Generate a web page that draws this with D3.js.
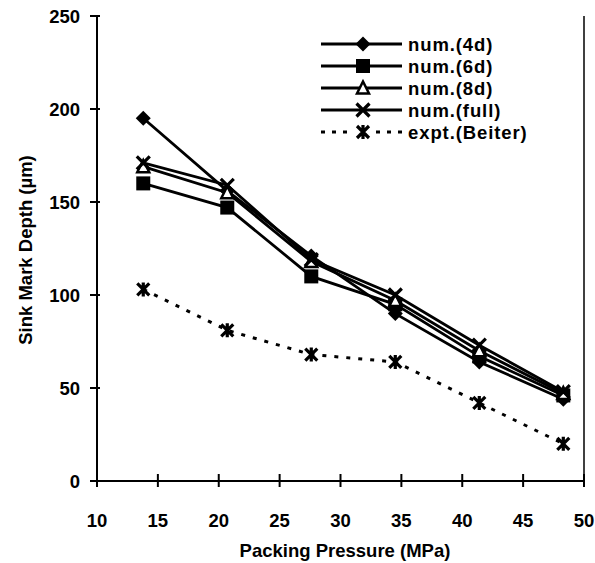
<!DOCTYPE html>
<html><head><meta charset="utf-8">
<script src="https://cdn.jsdelivr.net/npm/d3@7"></script>
<style>body{margin:0;background:#fff;} text{font-family:Arial,"Liberation Sans",sans-serif;font-weight:bold;fill:#000;}</style>
</head><body><svg id="c" width="595" height="563"></svg>
<script>
const pressures = [13.8, 20.7, 27.6, 34.5, 41.4, 48.3];
const num4d   = [195, 156, 121, 90, 64, 44];
const num6d   = [160, 147, 110, 95, 67, 46];
const num8d   = [169, 155, 118, 97, 70, 47];
const numFull = [171, 159, 119, 100, 73, 48];
const exptBeiter = [103, 81, 68, 64, 42, 20];
const seriesNames = ["num.(4d)", "num.(6d)", "num.(8d)", "num.(full)", "expt.(Beiter)"];
const xTicks = [10, 15, 20, 25, 30, 35, 40, 45, 50];
const yTicks = [0, 50, 100, 150, 200, 250];

const series = [
  {name: seriesNames[0], values: num4d, marker: "diamond", dash: null},
  {name: seriesNames[1], values: num6d, marker: "square", dash: null},
  {name: seriesNames[2], values: num8d, marker: "triangle", dash: null},
  {name: seriesNames[3], values: numFull, marker: "x", dash: null},
  {name: seriesNames[4], values: exptBeiter, marker: "asterisk", dash: "4,8"}
];

const svg = d3.select("#c");
const x = d3.scaleLinear().domain([10, 50]).range([97, 584]);
const y = d3.scaleLinear().domain([0, 250]).range([481, 16]);

// axes
const gx = svg.append("g");
gx.append("line").attr("x1", x(10)).attr("x2", x(50)).attr("y1", y(0)).attr("y2", y(0)).attr("stroke", "#000").attr("stroke-width", 2);
xTicks.forEach(t => {
  gx.append("line").attr("x1", x(t)).attr("x2", x(t)).attr("y1", y(0) - 7).attr("y2", y(0) + 6).attr("stroke", "#000").attr("stroke-width", 2);
  gx.append("text").attr("x", x(t)).attr("y", 527).attr("text-anchor", "middle").attr("font-size", 18.5).text(t);
});
const gy = svg.append("g");
gy.append("line").attr("x1", x(10)).attr("x2", x(10)).attr("y1", y(0)).attr("y2", y(250)).attr("stroke", "#000").attr("stroke-width", 2);
gy.append("line").attr("x1", x(50)).attr("x2", x(50)).attr("y1", y(0)).attr("y2", y(250)).attr("stroke", "#000").attr("stroke-width", 1.5);
yTicks.forEach(t => {
  gy.append("line").attr("x1", x(10) - 7).attr("x2", x(10) + 3).attr("y1", y(t)).attr("y2", y(t)).attr("stroke", "#000").attr("stroke-width", 2);
  gy.append("text").attr("x", 80).attr("y", y(t) + 7).attr("text-anchor", "end").attr("font-size", 18.5).text(t);
});
svg.append("text").attr("x", 345).attr("y", 557).attr("text-anchor", "middle").attr("font-size", 18.5).text("Packing Pressure (MPa)");
svg.append("text").attr("transform", "translate(32,250) rotate(-90)").attr("text-anchor", "middle").attr("font-size", 18.5).text("Sink Mark Depth (µm)");

function drawMarker(g, type, cx, cy) {
  if (type === "diamond") {
    const s = 7.5;
    g.append("path").attr("d", `M${cx},${cy-s} L${cx+s},${cy} L${cx},${cy+s} L${cx-s},${cy} Z`).attr("fill", "#000");
  } else if (type === "square") {
    g.append("rect").attr("x", cx - 7).attr("y", cy - 7).attr("width", 14).attr("height", 14).attr("fill", "#000");
  } else if (type === "triangle") {
    g.append("path").attr("d", `M${cx},${cy-6.5} L${cx+6},${cy+5.5} L${cx-6},${cy+5.5} Z`).attr("fill", "#fff").attr("stroke", "#000").attr("stroke-width", 2.5);
  } else if (type === "x") {
    const s = 6.5;
    g.append("path").attr("d", `M${cx-s},${cy-s} L${cx+s},${cy+s} M${cx+s},${cy-s} L${cx-s},${cy+s}`).attr("stroke", "#000").attr("stroke-width", 3.2).attr("fill", "none");
  } else if (type === "asterisk") {
    const s = 6;
    g.append("path").attr("d", `M${cx-s},${cy-s} L${cx+s},${cy+s} M${cx+s},${cy-s} L${cx-s},${cy+s} M${cx},${cy-s-1} L${cx},${cy+s+1}`).attr("stroke", "#000").attr("stroke-width", 3.2).attr("fill", "none");
  }
}

const line = d3.line().x((d, i) => x(pressures[i])).y(d => y(d));
series.forEach(s => {
  const g = svg.append("g");
  g.append("path").attr("d", line(s.values)).attr("fill", "none").attr("stroke", "#000").attr("stroke-width", s.dash ? 3 : 2.8).attr("stroke-dasharray", s.dash);
  s.values.forEach((v, i) => drawMarker(g, s.marker, x(pressures[i]), y(v)));
});

// legend
const lg = svg.append("g");
const rowY = [44, 66, 88, 110, 132];
series.forEach((s, i) => {
  const ry = rowY[i];
  lg.append("line").attr("x1", 321).attr("x2", 402).attr("y1", ry).attr("y2", ry).attr("stroke", "#000").attr("stroke-width", 2.8).attr("stroke-dasharray", s.dash ? "4,7" : null);
  if (s.dash) lg.append("rect").attr("x", 352).attr("y", ry - 8).attr("width", 22).attr("height", 16).attr("fill", "#fff");
  drawMarker(lg, s.marker, 363, ry);
  lg.append("text").attr("x", 408).attr("y", ry + 7).attr("font-size", 18.5).attr("letter-spacing", 0.9).text(s.name);
});
</script></body></html>
